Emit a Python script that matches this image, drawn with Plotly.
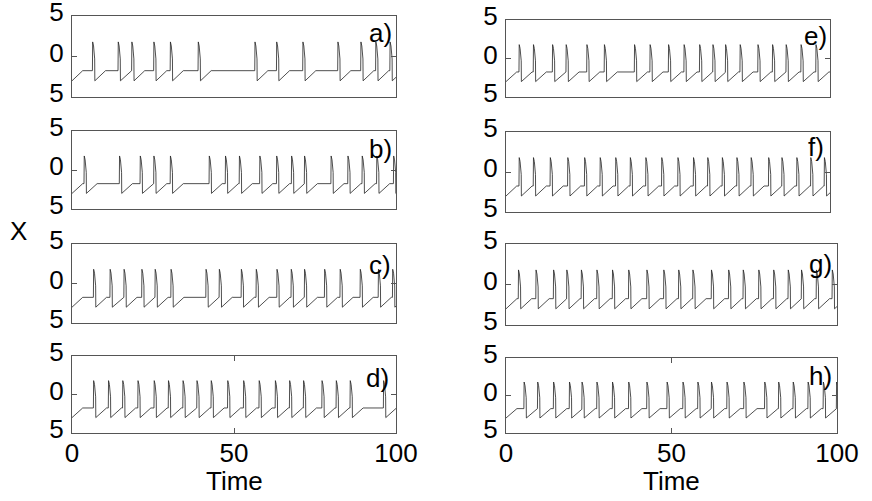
import plotly.graph_objects as go

W, H = 872, 501

# spike onset times (time units)
spikes_a = [6.3, 14.2, 18.4, 25.2, 30.3, 38.9, 56.4, 63.1, 71.2, 82.0, 89.1, 93.7, 98.1]
spikes_b = [3.7, 14.6, 21.0, 25.2, 30.3, 42.3, 47.3, 51.6, 57.9, 63.1, 67.7, 71.7, 79.9,
            85.1, 89.5, 94.0, 99.2]
spikes_c = [6.6, 11.7, 16.0, 21.5, 25.6, 30.5, 41.3, 45.4, 52.2, 56.8, 63.2, 67.6, 71.7,
            77.9, 82.7, 88.9, 94.5, 98.9]
spikes_d = [6.6, 11.2, 15.6, 20.3, 25.3, 29.7, 34.2, 38.5, 42.9, 48.0, 52.9, 57.7, 62.7,
            67.1, 71.4, 77.1, 81.5, 85.8, 96.1]
spikes_e = [4.0, 8.4, 14.3, 18.5, 24.9, 30.3, 39.6, 44.4, 50.1, 54.9, 59.7, 63.8, 67.7,
            72.2, 77.7, 82.2, 86.4, 91.0, 95.6]
spikes_f = [4.0, 8.4, 13.6, 19.0, 24.2, 29.0, 33.8, 38.3, 43.1, 48.0, 53.0, 57.8, 62.2,
            66.7, 71.2, 75.6, 81.0, 85.1, 89.7, 94.0, 98.2]
spikes_g = [3.7, 9.0, 14.3, 18.3, 22.7, 27.4, 32.1, 37.0, 42.5, 47.6, 52.1, 56.4, 62.0,
            67.2, 71.6, 76.3, 80.8, 85.2, 89.2, 93.7, 98.5]
spikes_h = [5.4, 9.5, 14.3, 19.1, 22.9, 27.4, 32.1, 37.0, 42.5, 48.6, 53.4, 57.9, 62.0,
            66.7, 71.8, 78.1, 82.3, 86.7, 91.2, 95.8, 99.8]

labels = ['a)', 'b)', 'c)', 'd)', 'e)', 'f)', 'g)', 'h)']
all_spikes = [spikes_a, spikes_b, spikes_c, spikes_d, spikes_e, spikes_f, spikes_g, spikes_h]

# levels of the trace
rest_level = -1.75
trough_level = -3.0
ramp_time = 3.3
# one spike: time offsets from onset and values
spike_dt = [0.08, 0.35, 0.7, 0.75]
spike_v = [1.8, 1.3, -0.3, -3.0]

# panel boxes in pixels: x0, x1, y0(top), y1(bottom)
boxes = [(72, 396, 16, 97), (72, 396, 131, 209), (72, 396, 244, 323), (72, 396, 356, 433),
         (506, 830, 20, 97), (506, 830, 132, 212), (506, 837, 244, 325), (506, 837, 358, 433)]
# label right edge / centre in pixels
label_pos = [(394, 33), (394, 149), (393, 265), (391, 378),
             (829, 36), (826, 147), (834, 264), (834, 376)]


def build_trace(spk):
    t, v = [0.0], [trough_level]
    last = 0.0
    for ts in spk:
        te = last + ramp_time
        if ts > te:
            t.append(te); v.append(rest_level)
            v0 = rest_level
        else:
            v0 = trough_level + (rest_level - trough_level) * (ts - last) / ramp_time
        t.append(ts); v.append(v0)
        for dt, vv in zip(spike_dt, spike_v):
            t.append(ts + dt); v.append(vv)
        last = ts + spike_dt[-1]
    te = last + ramp_time
    if te < 100:
        t.append(te); v.append(rest_level)
        t.append(100); v.append(rest_level)
    else:
        t.append(100); v.append(trough_level + (rest_level - trough_level) * (100 - last) / ramp_time)
    return t, v


def txt(text, px, py, anchor='center'):
    return dict(text=text, x=px / W, y=1 - py / H, xref='paper', yref='paper',
                xanchor=anchor, yanchor='middle', showarrow=False,
                font=dict(size=fs, color='black'))


font_family = 'Liberation Sans, Arial, sans-serif'
fs = 26
fig = go.Figure()
layout = dict(width=W, height=H, margin=dict(l=0, r=0, t=0, b=0, autoexpand=False),
              paper_bgcolor='white', plot_bgcolor='white', showlegend=False,
              font=dict(family=font_family, size=fs, color='black'))
annotations = []

for i, spk in enumerate(all_spikes):
    n = '' if i == 0 else str(i + 1)
    t, v = build_trace(spk)
    fig.add_trace(go.Scatter(x=t, y=v, mode='lines', xaxis='x' + n, yaxis='y' + n,
                             line=dict(color='#222222', width=0.8)))
    x0, x1, y0, y1 = boxes[i]
    bottom = i in (3, 7)
    layout['xaxis' + n] = dict(domain=[x0 / W, x1 / W], anchor='y' + n, range=[0, 100],
                               automargin=False, ticklabeloverflow='allow',
                               showgrid=False, zeroline=False, showline=True, linecolor='#555555',
                               linewidth=1, mirror='ticks' if bottom else True,
                               ticks='inside' if bottom else '', ticklen=5, tickcolor='#555555',
                               tickvals=[0, 50, 100], showticklabels=bottom,
                               ticklabelstandoff=-3)
    layout['yaxis' + n] = dict(domain=[1 - y1 / H, 1 - y0 / H], anchor='x' + n, range=[-5, 5],
                               automargin=False, ticklabeloverflow='allow',
                               showgrid=False, zeroline=False, showline=True, linecolor='#555555',
                               linewidth=1, mirror='ticks', ticks='inside', ticklen=5,
                               tickcolor='#555555', tickvals=[-5, 0, 5], ticktext=['5', '0', '5'],
                               ticklabelshift=-4, ticklabelstandoff=2)
    lx, ly = label_pos[i]
    annotations.append(txt(labels[i], lx, ly, 'right'))

annotations.append(txt('Time', 234, 481))
annotations.append(txt('Time', 671, 481))
annotations.append(txt('X', 18, 231))
layout['annotations'] = annotations
fig.update_layout(**layout)
fig.write_html('out.html', config={'displayModeBar': False},
               post_script="document.body.style.margin='0';")
